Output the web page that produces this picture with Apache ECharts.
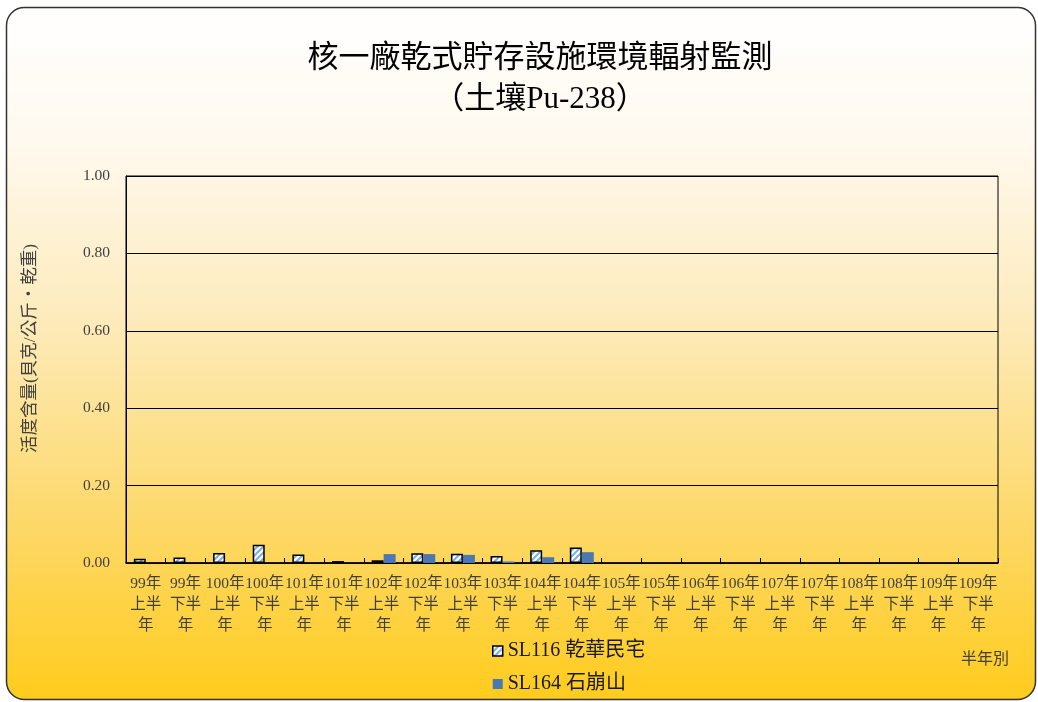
<!DOCTYPE html>
<html>
<head>
<meta charset="utf-8">
<script src="https://cdn.jsdelivr.net/npm/echarts@6/dist/echarts.min.js"></script>
<style>
  html, body { margin: 0; padding: 0; background: #fff; }
  #main { width: 1038px; height: 702px; }
</style>
</head>
<body>
<div id="main"></div>
<script>
var categories = ['99年\n上半\n年', '99年\n下半\n年', '100年\n上半\n年', '100年\n下半\n年',
    '101年\n上半\n年', '101年\n下半\n年', '102年\n上半\n年', '102年\n下半\n年',
    '103年\n上半\n年', '103年\n下半\n年', '104年\n上半\n年', '104年\n下半\n年',
    '105年\n上半\n年', '105年\n下半\n年', '106年\n上半\n年', '106年\n下半\n年',
    '107年\n上半\n年', '107年\n下半\n年', '108年\n上半\n年', '108年\n下半\n年',
    '109年\n上半\n年', '109年\n下半\n年'];
var seriesNames = ['SL116 乾華民宅', 'SL164 石崩山'];
// 讀圖估值
var sl116 = [0.011, 0.014, 0.026, 0.047, 0.022, 0.005, 0.007, 0.025, 0.024, 0.018, 0.033, 0.040,
    null, null, null, null, null, null, null, null, null, null];
var sl164 = [null, null, null, null, null, null, 0.023, 0.023, 0.021, 0.004, 0.015, 0.028,
    null, null, null, null, null, null, null, null, null, null];
var yTicks = [0, 0.2, 0.4, 0.6, 0.8, 1.0];

// 斜線填色
function makeHatch() {
    var c = document.createElement('canvas');
    c.width = 6; c.height = 6;
    var ctx = c.getContext('2d');
    ctx.fillStyle = '#ffffff';
    ctx.fillRect(0, 0, 6, 6);
    ctx.strokeStyle = '#79aee6';
    ctx.lineWidth = 2;
    ctx.beginPath();
    ctx.moveTo(-1, 7); ctx.lineTo(7, -1);
    ctx.moveTo(-4, 4); ctx.lineTo(4, -4);
    ctx.moveTo(2, 10); ctx.lineTo(10, 2);
    ctx.stroke();
    return c;
}
var hatch = makeHatch();

var serifFont = "'Liberation Serif', 'Noto Sans CJK TC', serif";

var chart = echarts.init(document.getElementById('main'));
var option = {
    backgroundColor: 'transparent',
    graphic: [
        {
            type: 'rect',
            z: -10,
            silent: true,
            shape: { x: 6.5, y: 7.5, width: 1029, height: 692, r: 18 },
            style: {
                fill: new echarts.graphic.LinearGradient(0, 0, 0, 1, [
                    { offset: 0, color: '#ffffff' },
                    { offset: 0.2, color: '#fff9ee' },
                    { offset: 0.45, color: '#fdebbb' },
                    { offset: 0.75, color: '#fdd867' },
                    { offset: 1, color: '#ffcc1c' }
                ]),
                stroke: '#333333',
                lineWidth: 1.5
            }
        },
        {
            type: 'text',
            left: 961,
            top: 650,
            style: {
                text: '半年別',
                font: "16px 'Noto Sans CJK TC'",
                fill: '#404040'
            }
        }
    ],
    title: {
        text: '核一廠乾式貯存設施環境輻射監測\n（土壤Pu-238）',
        left: 535,
        top: 33,
        textAlign: 'center',
        textStyle: {
            fontFamily: serifFont,
            fontSize: 31,
            fontWeight: 'normal',
            color: '#000',
            lineHeight: 41
        }
    },
    legend: {
        orient: 'vertical',
        left: 487,
        top: 636,
        itemGap: 13,
        itemWidth: 10,
        itemHeight: 10,
        textStyle: {
            fontFamily: serifFont,
            fontSize: 20,
            color: '#1a1a1a'
        },
        data: [
            { name: seriesNames[0], icon: 'rect', itemStyle: { color: { image: hatch, repeat: 'repeat' }, borderColor: '#000', borderWidth: 1.5 } },
            { name: seriesNames[1], icon: 'rect' }
        ]
    },
    grid: {
        left: 126,
        right: 40,
        top: 176,
        bottom: 139,
        show: true,
        borderColor: '#000',
        borderWidth: 1
    },
    xAxis: {
        type: 'category',
        data: categories,
        axisLine: { lineStyle: { color: '#000', width: 1.5 } },
        axisTick: { show: true, inside: true, length: 5, interval: 0, lineStyle: { color: '#000' } },
        axisLabel: {
            interval: 0,
            margin: 10,
            fontFamily: serifFont,
            fontSize: 15.5,
            lineHeight: 21,
            color: '#404040'
        }
    },
    yAxis: {
        type: 'value',
        min: 0,
        max: 1,
        interval: 0.2,
        name: '活度含量(貝克/公斤・乾重)',
        nameLocation: 'middle',
        nameRotate: 90,
        nameGap: 87,
        nameTextStyle: {
            fontFamily: serifFont,
            fontSize: 17.5,
            color: '#404040',
            padding: [0, 0, 0, 42]
        },
        axisLine: { show: true, lineStyle: { color: '#000', width: 1 } },
        axisTick: { show: false },
        splitLine: { lineStyle: { color: '#000', width: 1 } },
        axisLabel: {
            margin: 16,
            fontFamily: serifFont,
            fontSize: 15.5,
            color: '#404040',
            formatter: function (v) {
                return yTicks.indexOf(v) >= 0 ? v.toFixed(2) : '';
            }
        }
    },
    series: [
        {
            name: seriesNames[0],
            type: 'bar',
            data: sl116,
            barWidth: 12,
            barGap: '0%',
            itemStyle: {
                color: { image: hatch, repeat: 'repeat' },
                borderColor: '#000',
                borderWidth: 1.5
            }
        },
        {
            name: seriesNames[1],
            type: 'bar',
            data: sl164,
            barWidth: 12,
            barGap: '0%',
            itemStyle: { color: '#4a78b4' }
        }
    ]
};
chart.setOption(option);
</script>
</body>
</html>
